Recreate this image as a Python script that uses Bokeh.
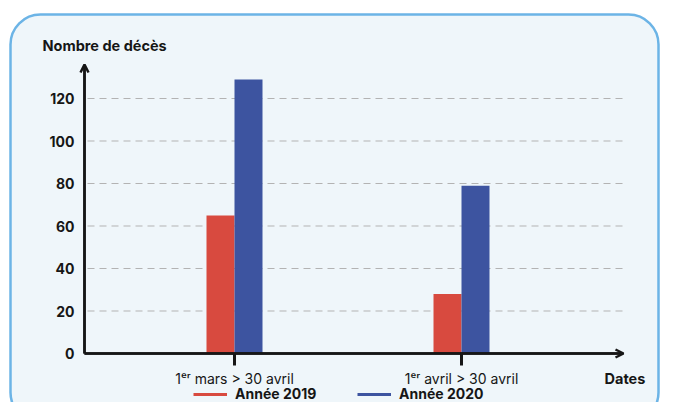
from bokeh.plotting import figure
from bokeh.models import (ColumnDataSource, Range1d, FixedTicker, Label, Legend,
                          LegendItem, Arrow, OpenHead, BoxAnnotation, LinearAxis)
from bokeh.transform import dodge
from bokeh.embed import file_html
from bokeh.resources import INLINE

# ---- data ----
categories = ["1\u1d49\u02b3 mars > 30 avril", "1\u1d49\u02b3 avril > 30 avril"]
deces_2019 = [65, 28]
deces_2020 = [129, 79]
y_ticks = [0, 20, 40, 60, 80, 100, 120]
series_names = ["Année 2019", "Année 2020"]
y_title = "Nombre de décès"
x_title = "Dates"

# ---- layout (pixel geometry of the canvas) ----
W, H = 660, 402
X_ZERO_PX, PX_PER_CAT = 234, 227      # category 0 centre, distance between categories
Y_ZERO_PX, PX_PER_UNIT = 353, 2.125   # value 0 line, pixels per death
FONT = "Inter"
RED = "#D84A3F"
BLUE = "#3D54A0"
INK = "#161616"
PANEL = "#EFF6FA"
NAN = float("nan")


def dx(px):
    return (px - X_ZERO_PX) / PX_PER_CAT


def dy(py):
    return (Y_ZERO_PX - py) / PX_PER_UNIT


AX_L, AX_R, AX_T = 84, 622, 65   # axis extents in pixels

idx = list(range(len(categories)))
src = ColumnDataSource(dict(x=idx, a=deces_2019, b=deces_2020))

p = figure(width=W, height=H, x_range=Range1d(dx(0), dx(W)), y_range=Range1d(dy(H), dy(0)),
           output_backend="svg", toolbar_location=None,
           min_border_left=0, min_border_right=0, min_border_top=0, min_border_bottom=0,
           background_fill_color="white", border_fill_color="white",
           outline_line_color=None, x_axis_type=None, y_axis_type=None)
p.grid.visible = False

# rounded panel (runs off the bottom edge, as in the original)
p.add_layout(BoxAnnotation(left=dx(10), right=dx(658), top=dy(14), bottom=dy(422),
                           fill_color=PANEL, fill_alpha=1, line_color="#6CB4E6",
                           line_width=2.5, line_alpha=1, border_radius=30, level="image"))

# dashed grid lines at the y ticks
grid_vals = [t for t in y_ticks if t > 0]
p.segment(x0=[dx(AX_L + 3)] * len(grid_vals), x1=[dx(AX_R)] * len(grid_vals),
          y0=grid_vals, y1=grid_vals, line_color="#b3b3b3", line_width=1,
          line_dash="7 5")

# bars
bw = 28 / PX_PER_CAT
p.vbar(x=dodge("x", -bw / 2, range=p.x_range), top="a", width=bw, source=src,
       fill_color=RED, line_color=None)
p.vbar(x=dodge("x", bw / 2, range=p.x_range), top="b", width=bw, source=src,
       fill_color=BLUE, line_color=None)

# axes at fixed positions
xaxis = LinearAxis(fixed_location=0, bounds=(dx(AX_L), dx(AX_R)),
                   ticker=FixedTicker(ticks=idx),
                   major_label_overrides={i: c for i, c in zip(idx, categories)})
yaxis = LinearAxis(fixed_location=dx(AX_L), bounds=(0, dy(AX_T)),
                   ticker=FixedTicker(ticks=y_ticks))
for ax in (xaxis, yaxis):
    ax.axis_line_color = INK
    ax.axis_line_width = 2.5
    ax.minor_tick_line_color = None
    ax.major_label_text_font = FONT
    ax.major_label_text_color = INK
yaxis.major_tick_line_color = None
yaxis.major_tick_in = 0
yaxis.major_tick_out = 0
yaxis.major_label_text_font_style = "bold"
yaxis.major_label_text_font_size = "14px"
yaxis.major_label_standoff = 10
xaxis.major_tick_in = 0
xaxis.major_tick_out = 12
xaxis.major_tick_line_width = 3
xaxis.major_tick_line_color = INK
xaxis.major_label_text_font_size = "14px"
xaxis.major_label_standoff = 4
p.add_layout(xaxis, "below")
p.add_layout(yaxis, "left")

# arrow heads
p.add_layout(Arrow(x_start=dx(AX_L), y_start=0, x_end=dx(AX_L), y_end=dy(AX_T - 1),
                   line_color=INK, line_width=2.5,
                   end=OpenHead(size=8, line_color=INK, line_width=2.5)))
p.add_layout(Arrow(x_start=dx(AX_L), y_start=0, x_end=dx(AX_R + 1), y_end=0,
                   line_color=INK, line_width=2.5,
                   end=OpenHead(size=8, line_color=INK, line_width=2.5)))

# titles
p.add_layout(Label(x=dx(42), y=dy(45), text=y_title, text_align="left",
                   text_baseline="middle", text_font=FONT, text_font_style="bold",
                   text_font_size="14.5px", text_color=INK))
p.add_layout(Label(x=dx(604), y=dy(378), text=x_title, text_align="left",
                   text_baseline="middle", text_font=FONT, text_font_style="bold",
                   text_font_size="14.5px", text_color=INK))

# legend (line swatches only, no plotted points)
r1 = p.line(x=[NAN], y=[NAN], line_color=RED, line_width=3)
r2 = p.line(x=[NAN], y=[NAN], line_color=BLUE, line_width=3)
legend = Legend(items=[LegendItem(label=series_names[0], renderers=[r1]),
                       LegendItem(label=series_names[1], renderers=[r2])],
                orientation="horizontal", location=(193, 0),
                glyph_width=34, glyph_height=14, label_height=14, label_width=88,
                label_standoff=8, spacing=34, padding=0, margin=0,
                border_line_color=None, background_fill_alpha=0,
                label_text_font=FONT, label_text_font_style="bold",
                label_text_font_size="14px", label_text_color=INK)
p.add_layout(legend)

open("out.html", "w").write(file_html(p, INLINE))
